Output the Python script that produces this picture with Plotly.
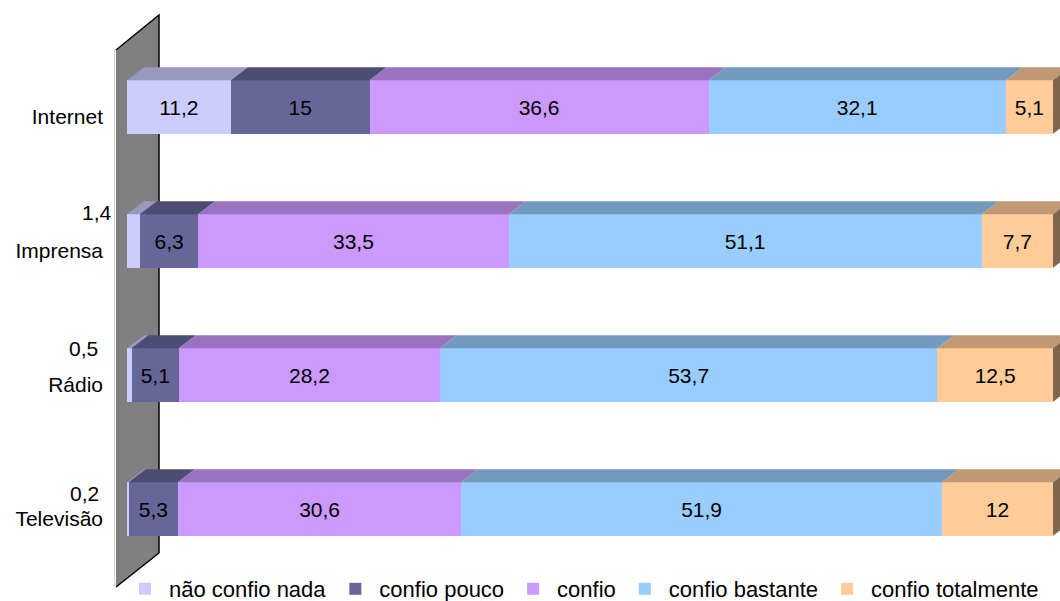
import plotly.graph_objects as go

# ---- data ----
categories = ["Internet", "Imprensa", "Rádio", "Televisão"]
series_names = ["não confio nada", "confio pouco", "confio", "confio bastante", "confio totalmente"]
nao_confio_nada = [11.2, 1.4, 0.5, 0.2]
confio_pouco = [15, 6.3, 5.1, 5.3]
confio = [36.6, 33.5, 28.2, 30.6]
confio_bastante = [32.1, 51.1, 53.7, 51.9]
confio_totalmente = [5.1, 7.7, 12.5, 12]
series_values = [nao_confio_nada, confio_pouco, confio, confio_bastante, confio_totalmente]

# ---- styles ----
front_colors = ["#CCCCFF", "#666699", "#CC99FF", "#99CCFF", "#FFCC99"]
top_colors = ["#9999BF", "#4D4D73", "#9973BF", "#7399BF", "#BF9973"]
side_colors = ["#66667F", "#33334C", "#664C7F", "#4C667F", "#80664D"]
FONT = "Liberation Sans, Arial, sans-serif"
W, H = 1060, 601
ML, MR, MT, MB = 127, 0, 40, 25
plot_w = W - ML - MR
plot_h = H - MT - MB
xmax = 100 * plot_w / 926.0
bar_w = 0.4
depth_px_x, depth_px_y = 17, 13
dx = depth_px_x * xmax / plot_w
dy = depth_px_y * 4.0 / plot_h
small_threshold = 2
small_label_offsets = {"Imprensa": (-13, 29), "Rádio": (-27, 27), "Televisão": (-26, 16)}

cat_order = categories[::-1]  # bottom to top
cat_index = {c: i for i, c in enumerate(cat_order)}


def fmt(v):
    return f"{v:g}".replace(".", ",")


fig = go.Figure()
for name, vals, col in zip(series_names, series_values, front_colors):
    texts = [fmt(v) if v >= small_threshold else "" for v in vals]
    fig.add_trace(go.Bar(
        y=categories, x=vals, name=name, orientation="h",
        marker=dict(color=col, line=dict(width=0)),
        width=bar_w,
        text=texts, textposition="inside", insidetextanchor="middle",
        textangle=0, constraintext="none",
        textfont=dict(family=FONT, size=21, color="black"),
        hoverinfo="skip",
    ))

shapes = []


def px2paper(px, py):
    return (px - ML) / plot_w, 1 - (py - MT) / plot_h


# back wall (decoration)
wall_pts = [px2paper(116, 50), px2paper(159, 15), px2paper(159, 553), px2paper(116, 587)]
shapes.append(dict(type="path", xref="paper", yref="paper", layer="below",
                   path="M{} {} L{} {} L{} {} L{} {} Z".format(*[c for p in wall_pts for c in p]),
                   fillcolor="#808080", line=dict(width=0)))
shapes.append(dict(type="path", xref="paper", yref="paper", layer="below",
                   path="M{} {} L{} {} L{} {} L{} {}".format(*[c for p in wall_pts for c in p]),
                   fillcolor="rgba(0,0,0,0)", line=dict(color="black", width=1.5)))
shapes.append(dict(type="line", xref="paper", yref="paper", layer="below",
                   x0=wall_pts[0][0] - 0.0015, y0=wall_pts[0][1], x1=wall_pts[3][0] - 0.0015, y1=wall_pts[3][1],
                   line=dict(color="#D0D0D0", width=1)))

# 3D faces derived from data
for r, cat in enumerate(categories):
    yi = cat_index[cat]
    base = 0.0
    top = yi + bar_w / 2
    for s in range(len(series_values)):
        v = series_values[s][r]
        a, b = base, base + v
        base = b
        if v <= 0:
            continue
        shapes.append(dict(type="path", xref="x", yref="y", layer="above",
                           path=f"M{a} {top} L{b} {top} L{b+dx} {top+dy} L{a+dx} {top+dy} Z",
                           fillcolor=top_colors[s], line=dict(width=0)))
    # right side of last segment
    shapes.append(dict(type="path", xref="x", yref="y", layer="above",
                       path=f"M{base} {yi-bar_w/2} L{base} {top} L{base+dx} {top+dy} L{base+dx} {yi-bar_w/2+dy} Z",
                       fillcolor=side_colors[-1], line=dict(width=0)))

annotations = []
for r, cat in enumerate(categories):
    v = nao_confio_nada[r]
    if v < small_threshold:
        xs, ys = small_label_offsets[cat]
        annotations.append(dict(x=0, y=cat_index[cat], xref="x", yref="y", text=fmt(v),
                                showarrow=False, xanchor="right", yanchor="middle",
                                xshift=xs, yshift=ys, font=dict(family=FONT, size=21, color="black")))

fig.update_layout(
    width=W, height=H,
    margin=dict(l=ML, r=MR, t=MT, b=MB, autoexpand=False),
    barmode="stack",
    paper_bgcolor="white", plot_bgcolor="rgba(0,0,0,0)",
    font=dict(family=FONT, size=21, color="black"),
    shapes=shapes, annotations=annotations,
    showlegend=True,
    legend=dict(orientation="h", x=121 / W, xref="container",
                y=1 - 589 / H, yref="container", xanchor="left", yanchor="middle",
                font=dict(family=FONT, size=22), itemwidth=38, traceorder="normal",
                bgcolor="rgba(0,0,0,0)"),
    xaxis=dict(range=[0, xmax], visible=False, fixedrange=True, automargin=False),
    yaxis=dict(type="category", categoryorder="array", categoryarray=cat_order,
               range=[-0.5, 3.5], showgrid=False, zeroline=False, showline=False,
               automargin=False, fixedrange=True,
               ticks="", ticklabelstandoff=23, ticklabelshift=10,
               tickfont=dict(family=FONT, size=21, color="black")),
)

fig.write_html("out.html", config={"displayModeBar": False},
               post_script="document.body.style.margin='0';document.body.style.overflow='hidden';")
